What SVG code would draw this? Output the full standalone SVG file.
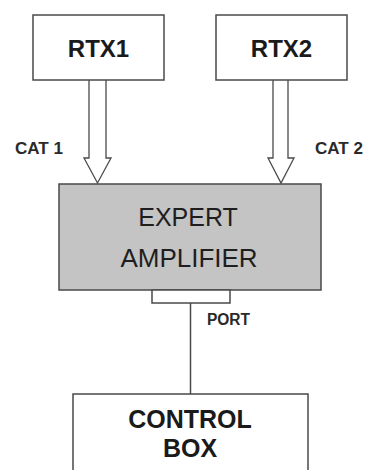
<svg xmlns="http://www.w3.org/2000/svg" width="365" height="470" viewBox="0 0 365 470">
<style>
.box{fill:#ffffff;stroke:#4a4a4a;stroke-width:1.5}
.amp{fill:#c4c4c4;stroke:#4a4a4a;stroke-width:1.5}
.arrow{fill:#ffffff;stroke:#4a4a4a;stroke-width:1.3;stroke-linejoin:miter}
.wire{stroke:#4a4a4a;stroke-width:1.5;fill:none}
.b{font-family:"Liberation Sans",Arial,sans-serif;font-weight:bold;fill:#1a1a1a;text-anchor:middle}
.n{font-family:"Liberation Sans",Arial,sans-serif;fill:#1e1e1e;text-anchor:middle}
.lbl{font-family:"Liberation Sans",Arial,sans-serif;font-weight:bold;fill:#2a2a2a;font-size:16px}
</style>
<rect width="365" height="470" fill="#ffffff"/>
<g id="connectors">
<path class="arrow" d="M89,80 L89,158 L84,158 L97.5,183 L111,158 L106,158 L106,80"/>
<path class="arrow" d="M273,80 L273,158 L268,158 L281,183 L294,158 L288,158 L288,80"/>
<line class="wire" x1="190.5" y1="303" x2="190.5" y2="394"/>
<text class="lbl" x="15" y="154" textLength="48" lengthAdjust="spacingAndGlyphs">CAT 1</text>
<text class="lbl" x="315" y="154" textLength="48" lengthAdjust="spacingAndGlyphs">CAT 2</text>
<text class="lbl" x="207" y="325" font-size="15" textLength="43" lengthAdjust="spacingAndGlyphs">PORT</text>
</g>
<g id="rtx1">
<rect class="box" x="33" y="15" width="131" height="65"/>
<text class="b" x="98.5" y="57" font-size="24">RTX1</text>
</g>
<g id="rtx2">
<rect class="box" x="216" y="15" width="131" height="65"/>
<text class="b" x="281.5" y="57" font-size="24">RTX2</text>
</g>
<g id="amplifier">
<rect class="amp" x="59" y="184" width="262" height="106"/>
<text class="n" x="188" y="226" font-size="25">EXPERT</text>
<text class="n" x="189" y="267" font-size="26">AMPLIFIER</text>
<rect class="box" x="152" y="290" width="78" height="13"/>
</g>
<g id="controlbox">
<rect class="box" x="73" y="394" width="235" height="90"/>
<text class="b" x="190" y="428" font-size="25">CONTROL</text>
<text class="b" x="190" y="457" font-size="25">BOX</text>
</g>
</svg>
